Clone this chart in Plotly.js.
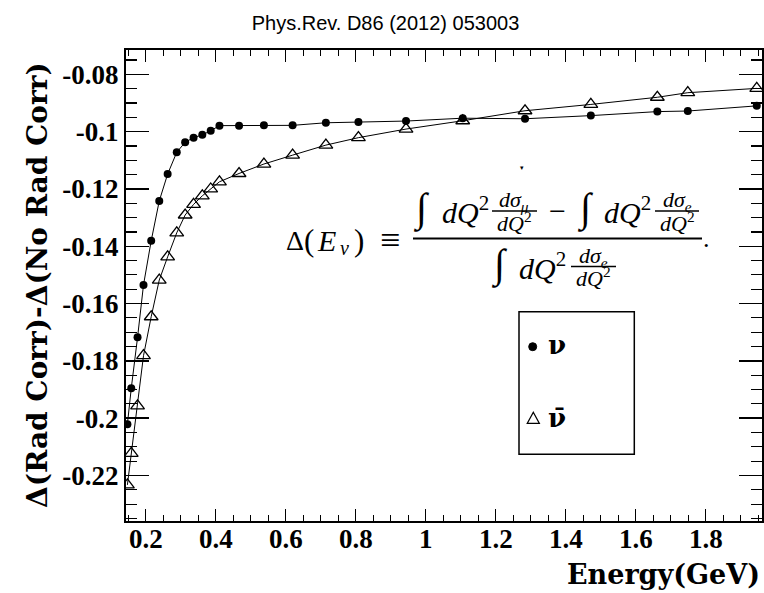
<!DOCTYPE html>
<html>
<head>
<meta charset="utf-8">
<script src="https://cdn.plot.ly/plotly-3.0.1.min.js"></script>
<style>html,body{margin:0;padding:0;background:#fff;}#chart{width:764px;height:593px;}</style>
</head>
<body>
<div id="chart"></div>
<script>
// ---- data ----
const energy = [0.148, 0.159, 0.177, 0.194, 0.216, 0.239, 0.263, 0.289, 0.313, 0.337, 0.362, 0.386, 0.411, 0.467, 0.538, 0.620, 0.715, 0.808, 0.944, 1.106, 1.284, 1.472, 1.662, 1.749, 1.946];
const nuDelta = [-0.2021, -0.1896, -0.1718, -0.1535, -0.1381, -0.1242, -0.1148, -0.1072, -0.1037, -0.1021, -0.1011, -0.0997, -0.0979, -0.0979, -0.0978, -0.0978, -0.0969, -0.0966, -0.0963, -0.0953, -0.0955, -0.0944, -0.0930, -0.0928, -0.0910];
const nubarDelta = [-0.2233, -0.2123, -0.1957, -0.1782, -0.1646, -0.1518, -0.1437, -0.1353, -0.1291, -0.1254, -0.1224, -0.1200, -0.1175, -0.1146, -0.1113, -0.1082, -0.1047, -0.1021, -0.0991, -0.0962, -0.0927, -0.0905, -0.0880, -0.0864, -0.0849];
const xTickVals = [0.2, 0.4, 0.6, 0.8, 1.0, 1.2, 1.4, 1.6, 1.8];
const xTickText = ["0.2", "0.4", "0.6", "0.8", "1", "1.2", "1.4", "1.6", "1.8"];
const yTickVals = [-0.22, -0.2, -0.18, -0.16, -0.14, -0.12, -0.1, -0.08];
const yTickText = ["-0.22", "-0.2", "-0.18", "-0.16", "-0.14", "-0.12", "-0.1", "-0.08"];

// ---- layout geometry ----
const W = 764, H = 593, L = 126, R = 762, T = 50, B = 521;
const fx = p => (p - L) / (R - L);
const fy = p => (B - p) / (B - T);

const serif = "Liberation Serif, Times New Roman, serif";
const blk = "#000";

const traces = [
  {x: energy, y: nuDelta, mode: "lines+markers", name: "ν",
   line: {color: blk, width: 1}, marker: {symbol: "circle", size: 8, color: blk}},
  {x: energy, y: nubarDelta, mode: "lines+markers", name: "ν̄",
   line: {color: blk, width: 1}, marker: {symbol: "triangle-up-open", size: 12, color: blk, line: {width: 1.3, color: blk}}}
];

function ann(text, px, py, size, opts) {
  return Object.assign({text: text, xref: "paper", yref: "paper", x: fx(px), y: fy(py),
    xanchor: "center", yanchor: "middle", showarrow: false,
    font: {family: serif, size: size, color: blk}}, opts || {});
}
function hline(x0, x1, y, w) {
  return {type: "line", xref: "paper", yref: "paper", x0: fx(x0), x1: fx(x1), y0: fy(y), y1: fy(y), line: {color: blk, width: w}};
}

const tickFont = {family: serif, size: 27, weight: 700, color: blk};
const fs = 30, small = 22, integ = 40;
const annotations = [
  // y title
  ann("Δ(Rad Corr)-Δ(No Rad Corr)", 37, 285, 28, {textangle: -90, font: {family: "DejaVu Serif", size: 28, weight: 700, color: blk}}),
  // x title
  ann("Energy(GeV)", 762, 574, 27, {xanchor: "right", font: {family: "DejaVu Serif", size: 27, weight: 700, color: blk}}),
  // formula: left side
  ann("Δ", 295, 240, 28),
  ann("(", 309, 240, 31),
  ann("<i>E</i>", 326, 240, 30),
  ann("<i>ν</i>", 344, 248, 20),
  ann(")", 359, 240, 31),
  ann("≡", 390, 240, 36),
  // numerator
  ann("∫", 421, 208, integ),
  ann("<i>dQ</i><sup>2</sup>", 465, 210, fs),
  ann("<i>dσ</i><sub><i>μ</i></sub>", 514, 201, small),
  ann("<i>dQ</i><sup>2</sup>", 514, 222, small),
  ann("−", 557, 210, fs),
  ann("∫", 585, 208, integ),
  ann("<i>dQ</i><sup>2</sup>", 627, 210, fs),
  ann("<i>dσ</i><sub><i>e</i></sub>", 677, 201, small),
  ann("<i>dQ</i><sup>2</sup>", 677, 222, small),
  // denominator
  ann("∫", 499, 264, integ),
  ann("<i>dQ</i><sup>2</sup>", 542, 266, fs),
  ann("<i>dσ</i><sub><i>e</i></sub>", 593, 257, small),
  ann("<i>dQ</i><sup>2</sup>", 593, 277, small),
  ann(".", 706, 238, 26),
  // small stray mark above the formula
  ann("▾", 521.7, 168, 7),
  // legend
  ann("<b>ν</b>", 557, 345, 26, {font: {family: "DejaVu Serif", size: 26, weight: 700, color: blk}}),
  ann("<b>ν̄</b>", 557, 418, 26, {font: {family: "DejaVu Serif", size: 26, weight: 700, color: blk}})
];
// x tick labels drawn from the tick arrays, placed just below the axis
xTickVals.forEach((v, i) => {
  annotations.push({text: xTickText[i], xref: "x", yref: "paper", x: v, y: fy(538.5),
    xanchor: "center", yanchor: "middle", showarrow: false, font: tickFont});
});

const shapes = [
  hline(413, 702, 238.5, 2),
  hline(492, 537, 211, 1.4),
  hline(655, 699, 211, 1.4),
  hline(571, 616, 266.5, 1.4),
  {type: "rect", xref: "paper", yref: "paper", x0: fx(519), x1: fx(634.3), y0: fy(311.7), y1: fy(454.3), line: {color: blk, width: 1.5}},
  {type: "circle", xref: "paper", yref: "paper", xsizemode: "pixel", ysizemode: "pixel",
   xanchor: fx(532.7), yanchor: fy(346.7), x0: -4, x1: 4, y0: -4, y1: 4, fillcolor: blk, line: {color: blk, width: 1}},
  {type: "path", xref: "paper", yref: "paper", xsizemode: "pixel", ysizemode: "pixel",
   xanchor: fx(533.3), yanchor: fy(418.3), path: "M -6,-5 L 6,-5 L 0,6 Z", line: {color: blk, width: 1.3}}
];

const axisCommon = {
  showline: true, linecolor: blk, linewidth: 2, mirror: "allticks",
  ticks: "inside", tickcolor: blk, tickwidth: 1.5,
  showgrid: false, zeroline: false, tickmode: "array",
  tickfont: tickFont
};

const layout = {
  width: W, height: H,
  margin: {l: L, r: W - R, t: T, b: H - B, pad: 0},
  paper_bgcolor: "#fff", plot_bgcolor: "#fff",
  showlegend: false,
  title: {text: "Phys.Rev. D86 (2012) 053003", x: 385.5 / W, xanchor: "center", y: 1 - 23 / H, yanchor: "middle",
          font: {family: "Liberation Sans", size: 20, color: blk}},
  xaxis: Object.assign({}, axisCommon, {
    range: [0.144, 1.961], tickvals: xTickVals, ticktext: xTickText, ticklen: 12, showticklabels: false,
    minor: {tickmode: "linear", tick0: 0, dtick: 0.05, ticks: "inside", ticklen: 6, tickwidth: 1.2, tickcolor: blk, showgrid: false}
  }),
  yaxis: Object.assign({}, axisCommon, {
    range: [-0.2359, -0.0715], tickvals: yTickVals, ticktext: yTickText, ticklen: 23,
    minor: {tickmode: "linear", tick0: 0, dtick: 0.005, ticks: "inside", ticklen: 11, tickwidth: 1.2, tickcolor: blk, showgrid: false}
  }),
  annotations: annotations,
  shapes: shapes
};

Plotly.newPlot("chart", traces, layout, {displayModeBar: false, staticPlot: true});
</script>
</body>
</html>
